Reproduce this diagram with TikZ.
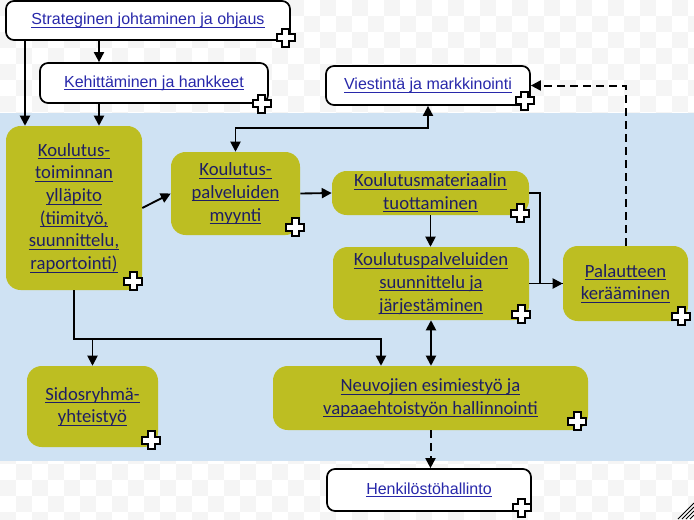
\documentclass[tikz,border=0pt]{standalone}
\usepackage{fontspec}
\setmainfont{Carlito}
\newfontfamily\arialfont{Liberation Sans}
\usetikzlibrary{arrows.meta}

\definecolor{bandblue}{RGB}{207,226,243}
\definecolor{checkgray}{RGB}{245,245,245}
\definecolor{boxgreen}{RGB}{189,190,34}
\definecolor{linkblue}{RGB}{40,40,170}
\definecolor{linknavy}{RGB}{30,30,100}

% underlined link text
\newsavebox\lnkbox
\newcommand\lnk[1]{\sbox\lnkbox{#1}\rlap{\rule[-2.2pt]{\wd\lnkbox}{0.7pt}}\usebox\lnkbox}

\begin{document}
\begin{tikzpicture}[x=0.75pt,y=-0.75pt,
	whitebox/.style={draw,line width=1.3pt,fill=white,rounded corners=6pt,inner sep=0pt,
		font=\arialfont\fontsize{12}{14}\selectfont,text=linkblue},
	greenbox/.style={fill=boxgreen,rounded corners=11pt,inner sep=0pt,align=center,
		font=\fontsize{14}{17}\selectfont,text=linknavy},
	arr/.style={line width=1.4pt,-{Triangle[length=7.5pt,width=7.5pt]}},
	dblarr/.style={line width=1.4pt,{Triangle[length=7.5pt,width=7.5pt]}-{Triangle[length=7.5pt,width=7.5pt]}},
	dasharr/.style={line width=1.5pt,dash pattern=on 6pt off 3.75pt,-{Triangle[length=7.5pt,width=7.5pt,sep=0pt]}},
	plusicon/.pic={\draw[fill=white,line width=1.4pt,miter limit=4]
		(-3.5,-9) -- (3.5,-9) -- (3.5,-3.5) -- (9,-3.5) -- (9,3.5) -- (3.5,3.5) -- (3.5,9)
		-- (-3.5,9) -- (-3.5,3.5) -- (-9,3.5) -- (-9,-3.5) -- (-3.5,-3.5) -- cycle;}]
	\useasboundingbox (0,0) rectangle (694,519);
	% background
	\begin{scope}
		\clip (0,0) rectangle (694,519);
		\fill[white] (0,0) rectangle (694,519);
		\foreach \j in {0,...,32} {
			\foreach \i in {0,...,43} {
				\pgfmathtruncatemacro\odd{mod(\i+\j,2)}
				\ifnum\odd=0
					\fill[checkgray] (\i*16,\j*16) rectangle ++(16,16);
				\fi
			}
		}
		\fill[bandblue] (0,113) rectangle (694,461);
	\end{scope}

	% boxes
	\node[whitebox,minimum width=213pt,minimum height=29.25pt] (strat) at (148,20.5) {\lnk{Strateginen johtaminen ja ohjaus}};
	\node[whitebox,minimum width=171pt,minimum height=30pt] (kehit) at (154,83) {\lnk{Kehittäminen ja hankkeet}};
	\node[whitebox,minimum width=153pt,minimum height=29.25pt] (viest) at (428,85.5) {\lnk{Viestintä ja markkinointi}};
	\node[greenbox,minimum width=102pt,minimum height=123pt] (toim) at (74,208) {\lnk{Koulutus-}\\\lnk{toiminnan}\\\lnk{ylläpito}\\\lnk{(tiimityö,}\\\lnk{suunnittelu,}\\\lnk{raportointi)}};
	\node[greenbox,minimum width=96.75pt,minimum height=62.25pt] (myynti) at (235.5,193.5) {\lnk{Koulutus-}\\\lnk{palveluiden}\\\lnk{myynti}};
	\node[greenbox,minimum width=147.75pt,minimum height=33pt] (mater) at (430.5,193) {\lnk{Koulutusmateriaalin}\\\lnk{tuottaminen}};
	\node[greenbox,minimum width=147pt,minimum height=54.75pt] (suunn) at (431,283.5) {\lnk{Koulutuspalveluiden}\\\lnk{suunnittelu ja}\\\lnk{järjestäminen}};
	\node[greenbox,minimum width=93.75pt,minimum height=56.25pt] (palaut) at (625.5,283.5) {\lnk{Palautteen}\\\lnk{kerääminen}};
	\node[greenbox,minimum width=98.25pt,minimum height=60.75pt] (sidos) at (92.5,406.5) {\lnk{Sidosryhmä-}\\\lnk{yhteistyö}};
	\node[greenbox,minimum width=236.25pt,minimum height=48pt] (neuvo) at (430.5,398) {\lnk{Neuvojien esimiestyö ja}\\\lnk{vapaaehtoistyön hallinnointi}};
	\node[whitebox,minimum width=153pt,minimum height=31.5pt] (henk) at (429,490) {\lnk{Henkilöstöhallinto}};

	% connectors
	\draw[arr] (strat.south -| 25,0) -- (toim.north -| 25,0);
	\draw[arr] (strat.south -| 99,0) -- (kehit.north -| 99,0);
	\draw[arr] (kehit.south -| 99,0) -- (toim.north -| 99,0);
	\draw[arr] (toim.east) -- (myynti.west);
	\draw[dblarr] (myynti.north) -- ++(0,-24) -| (viest.south);
	\draw[arr] (myynti.east) -- (mater.west);
	\draw[arr] (mater.south) -- (mater.south |- suunn.north);
	\draw[arr] (mater.east) -- ++(11,0) |- (palaut.west);
	\draw[line width=1.4pt] (suunn.east) -- (palaut.west);
	\draw[dasharr] (palaut.north) |- (viest.east);
	\draw[arr] (toim.south) -- ++(0,49) coordinate (split) -| (neuvo.north -| 381,0);
	\draw[arr] (split -| sidos.north) -- (sidos.north);
	\draw[dblarr] (suunn.south) -- (suunn.south |- neuvo.north);
	\draw[dasharr] (neuvo.south) -- (neuvo.south |- henk.north);

	% plus marks
	\pic at ([shift={(-5,-3)}]strat.south east) {plusicon};
	\pic at ([shift={(-7,0)}]kehit.south east) {plusicon};
	\pic at ([shift={(-6,-5)}]viest.south east) {plusicon};
	\pic at ([shift={(-9,-9)}]toim.south east) {plusicon};
	\pic at ([shift={(-5,-8)}]myynti.south east) {plusicon};
	\pic at ([shift={(-9,-2)}]mater.south east) {plusicon};
	\pic at ([shift={(-8,-6)}]suunn.south east) {plusicon};
	\pic at ([shift={(-7,-5)}]palaut.south east) {plusicon};
	\pic at ([shift={(-7,-7)}]sidos.south east) {plusicon};
	\pic at ([shift={(-11,-9)}]neuvo.south east) {plusicon};
	\pic at ([shift={(-10,-4)}]henk.south east) {plusicon};

	% resize grip
	\foreach \k in {4,8,12,16}
		\draw[line width=0.6pt] (694-\k,519) -- (694,519-\k);
\end{tikzpicture}
\end{document}
